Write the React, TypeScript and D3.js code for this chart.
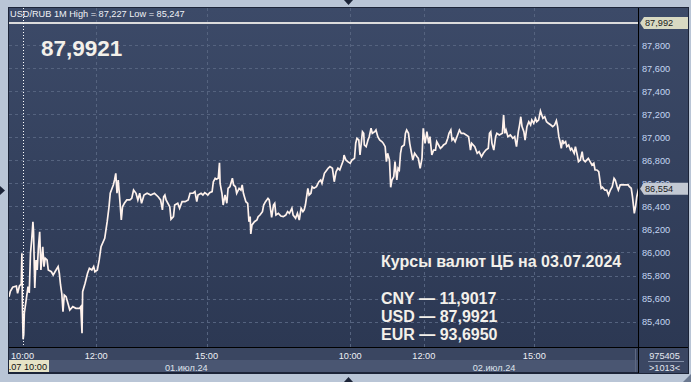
import React from "react";
import * as d3 from "d3";

// ---------- DATA ----------
const day1Times = ["09:38","09:40","09:44","09:50","09:52","09:55","09:58","09:59","10:00","10:01","10:02","10:03","10:06","10:09","10:11","10:13","10:15","10:17","10:18","10:20","10:22","10:24","10:26","10:28","10:30","10:33","10:35","10:37","10:40","10:42","10:47","10:50","10:53","10:58","11:00","11:02","11:04","11:06","11:08","11:11","11:14","11:17","11:22","11:27","11:33","11:35","11:37","11:38","11:42","11:46","11:49","11:53","11:56","11:58","12:02","12:05","12:08","12:14","12:18","12:21","12:23","12:26","12:28","12:30","12:32","12:34","12:36","12:39","12:41","12:43","12:46","12:50","12:55","12:58","13:01","13:05","13:08","13:11","13:14","13:18","13:23","13:29","13:35","13:41","13:45","13:48","13:50","13:52","13:54","14:00","14:02","14:06","14:08","14:13","14:16","14:20","14:25","14:30","14:33","14:38","14:41","14:44","14:46","14:51","14:54","14:57","15:02","15:05","15:09","15:11","15:14","15:16","15:19","15:21","15:22","15:25","15:27","15:30","15:33","15:35","15:38","15:42","15:44","15:47","15:49","15:53","15:56","15:58","16:00","16:04","16:07","16:09","16:11","16:12","16:14","16:18","16:22","16:24","16:27","16:31","16:33","16:36","16:40","16:42","16:44","16:46","16:49","16:51","16:53","16:57","17:01","17:05","17:09","17:12","17:15","17:19","17:21","17:25","17:28","17:31","17:34","17:37","17:39","17:41","17:45","17:47","17:50","17:52","17:55","17:59","18:03","18:06","18:08","18:12","18:16","18:18","18:21","18:25","18:28","18:31","18:34","18:37","18:40","18:43","18:44","18:47","18:50"];
const day1Values = [85.616,85.660,85.698,85.709,85.646,85.709,85.727,85.993,85.486,85.247,85.290,85.475,85.588,85.703,85.649,85.993,86.108,86.267,86.180,85.692,85.935,85.848,86.050,86.180,85.848,86.050,85.877,85.950,85.935,85.848,85.833,85.805,85.833,85.877,85.820,85.718,85.646,85.486,85.631,85.616,85.559,85.501,85.530,85.516,85.516,85.530,85.299,85.660,85.733,85.820,85.863,85.848,85.877,85.833,85.848,85.935,86.050,86.123,86.267,86.397,86.514,86.557,86.586,86.629,86.687,86.514,86.629,86.427,86.282,86.397,86.427,86.456,86.456,86.470,86.542,86.514,86.456,86.514,86.427,86.499,86.514,86.499,86.514,86.484,86.456,86.369,86.484,86.499,86.456,86.397,86.288,86.311,86.412,86.427,86.384,86.441,86.441,86.456,86.514,86.514,86.528,86.441,86.499,86.514,86.499,86.519,86.499,86.519,86.528,86.614,86.644,86.635,86.644,86.779,86.600,86.514,86.412,86.499,86.427,86.557,86.571,86.644,86.586,86.571,86.514,86.557,86.542,86.586,86.514,86.441,86.427,86.267,86.311,86.161,86.239,86.267,86.282,86.311,86.325,86.354,86.412,86.441,86.470,86.456,86.384,86.305,86.412,86.427,86.325,86.340,86.317,86.311,86.325,86.354,86.340,86.384,86.325,86.297,86.340,86.282,86.384,86.355,86.369,86.412,86.557,86.499,86.514,86.571,86.557,86.571,86.614,86.629,86.600,86.687,86.716,86.731,86.745,86.731,86.614,86.701,86.731,86.716,86.759,86.803,86.846,86.803,86.788];

const day2Times = ["10:00","10:03","10:07","10:09","10:11","10:14","10:16","10:18","10:20","10:22","10:23","10:26","10:29","10:31","10:34","10:36","10:40","10:42","10:45","10:48","10:52","10:54","10:57","10:59","11:01","11:04","11:06","11:08","11:11","11:13","11:16","11:18","11:20","11:22","11:24","11:28","11:30","11:32","11:35","11:37","11:40","11:42","11:45","11:49","11:51","11:54","11:57","11:59","12:02","12:05","12:08","12:10","12:13","12:16","12:19","12:21","12:24","12:27","12:30","12:32","12:36","12:39","12:41","12:44","12:46","12:48","12:51","12:54","12:58","13:01","13:05","13:09","13:13","13:16","13:18","13:23","13:27","13:30","13:34","13:37","13:41","13:45","13:47","13:49","13:51","13:54","13:57","13:59","14:03","14:08","14:10","14:12","14:14","14:17","14:21","14:25","14:28","14:31","14:34","14:36","14:38","14:40","14:43","14:45","14:48","14:51","14:54","14:56","14:59","15:02","15:04","15:07","15:10","15:14","15:17","15:20","15:23","15:27","15:30","15:33","15:36","15:38","15:40","15:42","15:44","15:46","15:48","15:51","15:53","15:56","15:59","16:01","16:05","16:07","16:10","16:12","16:15","16:18","16:20","16:23","16:28","16:31","16:34","16:37","16:39","16:42","16:45","16:48","16:49","16:51","16:55","16:58","17:01","17:04","17:07","17:10","17:12","17:15","17:17","17:20","17:24","17:28","17:33","17:35","17:38","17:40","17:43","17:45","17:47","17:50"];
const day2Values = [86.774,86.803,86.817,86.948,86.991,86.976,86.846,86.947,87.048,87.034,86.933,86.918,86.976,87.005,87.078,87.034,87.048,87.063,87.005,86.976,86.961,86.947,86.918,86.788,86.861,86.803,86.566,86.629,86.658,86.788,86.629,86.731,86.716,86.861,86.918,86.933,87.034,87.063,87.034,86.947,86.861,86.803,86.861,86.831,86.817,86.731,86.817,87.077,86.947,87.048,86.947,87.005,86.846,86.889,86.889,86.962,86.933,86.904,86.918,86.933,86.947,86.991,87.034,87.063,86.976,86.991,86.962,87.005,87.063,87.034,87.034,87.020,87.005,86.889,86.947,86.918,86.861,86.875,86.831,86.861,86.889,86.904,87.034,87.048,86.947,86.889,87.005,87.034,87.020,87.034,87.193,87.034,87.063,87.005,87.020,86.991,87.005,86.918,87.048,87.106,87.178,87.092,87.048,86.976,87.092,87.135,87.106,87.150,87.121,87.164,87.135,87.149,87.227,87.164,87.178,87.135,87.121,87.106,87.092,87.106,87.144,87.092,87.005,86.962,86.904,86.976,86.947,86.962,86.918,86.933,86.889,86.904,86.861,86.918,86.846,86.788,86.803,86.875,86.803,86.788,86.817,86.788,86.759,86.774,86.716,86.716,86.701,86.586,86.557,86.566,86.542,86.542,86.499,86.542,86.571,86.644,86.629,86.571,86.542,86.586,86.586,86.586,86.586,86.571,86.557,86.484,86.340,86.397,86.484,86.554];

const dayLabels = ["01.июл.24", "02.июл.24"];
const timeTicks = ["10:00", "12:00", "15:00"];
const priceTicks = [85.4, 85.6, 85.8, 86.0, 86.2, 86.4, 86.6, 86.8, 87.0, 87.2, 87.4, 87.6, 87.8];
const refLevel = 87.992;
const lastPrice = 86.554;
const headerText = "USD/RUB 1M High = 87,227 Low = 85,247";
const bigValue = "87,9921";
const infoTitle = "Курсы валют ЦБ на 03.07.2024";
const rateNames = ["CNY", "USD", "EUR"];
const rateValues = ["11,9017", "87,9921", "93,6950"];
const cursorLabel = "01.07 10:00";
const volumeText = "975405";
const countText = ">1013<";

// session layout: minutes from day 1 10:00; day 2 starts after day-1 session
const DAY2_OFFSET = 534;
const dayStart = [-22, DAY2_OFFSET];
const dayEnd = [DAY2_OFFSET, 1003];

const toMin = (t: string, day: number) => {
  const [h, m] = t.split(":").map(Number);
  return h * 60 + m - 600 + (day === 1 ? DAY2_OFFSET : 0);
};

const series = [
  ...day1Times.map((t, i) => ({ m: toMin(t, 0), v: day1Values[i] })),
  ...day2Times.map((t, i) => ({ m: toMin(t, 1), v: day2Values[i] })),
];

const fmt = (v: number, d: number) => v.toFixed(d).replace(".", ",");

export default function App() {
  const W = 691, H = 382;
  const L = 9, R = 638, T = 8, B = 347;
  const x = d3.scaleLinear().domain([-22, 1003]).range([L, R]);
  const y = d3.scaleLinear().domain([85.18, 88.1215]).range([B, T]);
  const line = d3.line<{ m: number; v: number }>().x(d => x(d.m)).y(d => y(d.v));
  const font = "'Liberation Sans', Arial, sans-serif";
  const gridTimes: number[] = [];
  [0, 1].forEach(day => timeTicks.forEach(t => gridTimes.push(toMin(t, day))));
  const cursorX = x(toMin("10:00", 0));
  const yRef = y(refLevel);
  const yLast = y(lastPrice);

  return (
    <svg width={W} height={H} style={{ position: "absolute", left: 0, top: 0, fontFamily: font }}>
      <defs>
        <linearGradient id="bg" x1="0" y1="0" x2="0" y2="1">
          <stop offset="0" stopColor="#3c4a68" />
          <stop offset="1" stopColor="#2c3853" />
        </linearGradient>
        <clipPath id="plotClip"><rect x={L} y={T} width={R - L} height={B - T} /></clipPath>
        <clipPath id="leftClip"><rect x={L} y={0} width={W} height={H} /></clipPath>
      </defs>
      {/* frame */}
      <rect x={0} y={0} width={W} height={H} fill="#b9c5d6" />
      <rect x={8} y={7} width={681} height={367} fill="#1c2438" />
      {/* plot + right axis bg */}
      <rect x={L} y={T} width={R - L} height={B - T} fill="url(#bg)" />
      <rect x={R + 1} y={T} width={688 - R - 1} height={B - T} fill="url(#bg)" />
      {/* bottom axis rows */}
      <rect x={L} y={B + 1} width={R - L} height={12} fill="#3a4661" />
      <rect x={L} y={B + 13} width={R - L} height={12} fill="#4a5672" />
      <rect x={R + 1} y={B + 1} width={688 - R - 1} height={25} fill="#3b4763" />
      <line x1={635.5} x2={635.5} y1={B + 2} y2={372} stroke="#5d6882" />

      {/* grid */}
      <g stroke="#55637f" strokeDasharray="3,3" strokeWidth={1}>
        {priceTicks.map(p => (
          <line key={p} x1={L} x2={R} y1={Math.round(y(p)) + 0.5} y2={Math.round(y(p)) + 0.5} />
        ))}
        {gridTimes.slice(1).map(m => (
          <line key={m} x1={Math.round(x(m)) + 0.5} x2={Math.round(x(m)) + 0.5} y1={T} y2={B} />
        ))}
      </g>

      {/* reference level line */}
      <line x1={L} x2={R} y1={yRef} y2={yRef} stroke="#dcdcdc" strokeWidth={2} />

      {/* price line */}
      <path d={line(series) || ""} fill="none" stroke="#fff2ec" strokeWidth={1.7} strokeLinejoin="miter" clipPath="url(#plotClip)" />

      {/* cursor */}
      <line x1={Math.round(cursorX) + 0.5} x2={Math.round(cursorX) + 0.5} y1={T} y2={B} stroke="#ffffff" strokeDasharray="1,2" />

      {/* axis lines */}
      <line x1={R + 0.5} x2={R + 0.5} y1={T} y2={373} stroke="#000" />
      <line x1={L} x2={688} y1={B + 0.5} y2={B + 0.5} stroke="#000" />

      {/* header */}
      <text x={10} y={17} fontSize={9.2} fill="#f0f2f6">{headerText}</text>
      <text x={41} y={56} fontSize={22.5} fontWeight="bold" fill="#f3f0ea">{bigValue}</text>

      {/* right axis labels */}
      {priceTicks.map(p => (
        <text key={p} x={642} y={y(p) + 3.5} fontSize={9.2} fill="#c4d6f2">{fmt(p, 3)}</text>
      ))}
      {/* price tags */}
      <path d={`M${R + 2},${yRef} L${R + 6},${yRef - 6} H688 V${yRef + 6} H${R + 6} Z`} fill="#d8d9c2" />
      <text x={645} y={yRef + 3.5} fontSize={9.2} fill="#1a1a1a">{fmt(refLevel, 3)}</text>
      <path d={`M${R + 2},${yLast} L${R + 6},${yLast - 6} H688 V${yLast + 6} H${R + 6} Z`} fill="#c3c9d3" />
      <text x={645} y={yLast + 3.5} fontSize={9.2} fill="#1a1a1a">{fmt(lastPrice, 3)}</text>

      {/* time labels */}
      {gridTimes.map((m, i) => (
        <text key={i} x={x(m)} y={359} fontSize={9.2} fill="#eef0f5" textAnchor="middle">{timeTicks[i % 3]}</text>
      ))}
      {dayLabels.map((d, i) => (
        <text key={d} x={x((Math.max(dayStart[i], 0) + dayEnd[i]) / 2)} y={370.5} fontSize={9.2} fill="#dfe3ec" textAnchor="middle">{d}</text>
      ))}
      {/* cursor time label */}
      <g clipPath="url(#leftClip)">
        <rect x={1} y={360} width={48} height={12} fill="#e6e3c6" />
        <text x={47} y={369.5} fontSize={9.2} fill="#111" textAnchor="end">{cursorLabel}</text>
      </g>
      {/* bottom right */}
      <text x={664.5} y={358.5} fontSize={9.2} fill="#e4e8f0" textAnchor="middle">{volumeText}</text>
      <line x1={648} x2={684} y1={361.5} y2={361.5} stroke="#8490a8" />
      <text x={664.5} y={371} fontSize={9.2} fill="#e4e8f0" textAnchor="middle">{countText}</text>

      {/* info block */}
      <text x={381} y={267} fontSize={16} fontWeight="bold" fill="#f3f0ea">{infoTitle}</text>
      {rateNames.map((n, i) => (
        <text key={n} x={381} y={304 + i * 18} fontSize={16} fontWeight="bold" fill="#f3f0ea">{`${n} — ${rateValues[i]}`}</text>
      ))}

      {/* frame arrows */}
      <path d="M344,0 L353,0 L348.5,5 Z" fill="#1c2438" />
      <path d="M344,382 L353,382 L348.5,377 Z" fill="#1c2438" />
      <path d="M0,186 L0,195 L5,190.5 Z" fill="#1c2438" />
      <path d="M691,374 L691,382 L683,382 Z" fill="#6a7890" />
    </svg>
  );
}
